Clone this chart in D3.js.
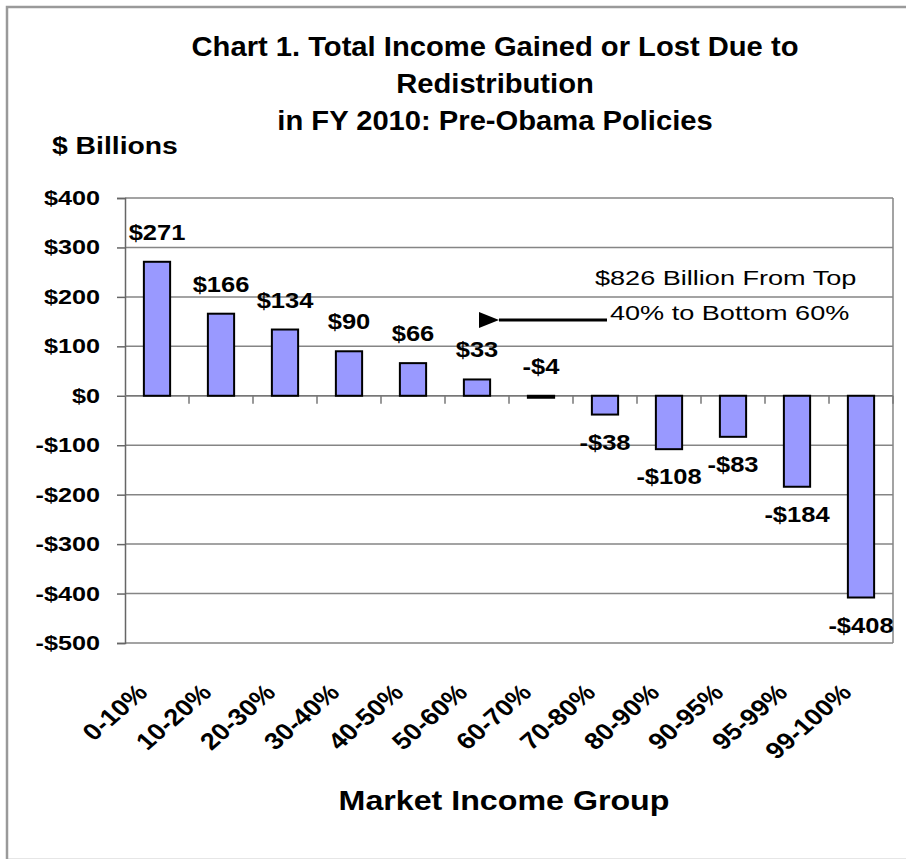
<!DOCTYPE html>
<html>
<head>
<meta charset="utf-8">
<script src="https://cdn.jsdelivr.net/npm/d3@7"></script>
<style>
html,body{margin:0;padding:0;background:#fff;}
svg{display:block;}
text{font-family:"Liberation Sans",Arial,sans-serif;fill:#000;}
</style>
</head>
<body>
<script>
const categories = ["0-10%","10-20%","20-30%","30-40%","40-50%","50-60%","60-70%","70-80%","80-90%","90-95%","95-99%","99-100%"];
const values = [271,166,134,90,66,33,-4,-38,-108,-83,-184,-408];
const yTicks = [400,300,200,100,0,-100,-200,-300,-400,-500];
const titleLines = ["Chart 1. Total Income Gained or Lost Due to","Redistribution","in FY 2010: Pre-Obama Policies"];
const yAxisTitle = "$ Billions";
const xAxisTitle = "Market Income Group";
const noteLines = ["$826 Billion From Top","40% to Bottom 60%"];

(function () {
const W = 906, H = 859;
const svg = d3.select("body").append("svg").attr("width", W).attr("height", H);

// outer frame (right side runs off the picture)
svg.append("rect").attr("x",7).attr("y",7).attr("width",W + 30).attr("height",H - 6)
  .attr("fill","#fff").attr("stroke","#9a9a9a").attr("stroke-width",2.5);

const pL = 125, pR = 893, pT = 198, pB = 643;
const x = d3.scaleBand().domain(categories).range([pL, pR]).padding(0);
const y = d3.scaleLinear().domain([-500, 400]).range([pB, pT]);
const fmt = v => (v < 0 ? "-$" + Math.abs(v) : "$" + v);

function stretchText(g, px, py, str, size, weight, sx, anchor) {
  return g.append("text")
    .attr("transform", `translate(${px},${py}) scale(${sx},1)`)
    .attr("text-anchor", anchor || "middle")
    .attr("font-size", size).attr("font-weight", weight)
    .text(str);
}

// gridlines
svg.append("g").selectAll("line").data(yTicks).join("line")
  .attr("x1", pL).attr("x2", pR)
  .attr("y1", d => y(d)).attr("y2", d => y(d))
  .attr("stroke", "#858585").attr("stroke-width", 1.5);
svg.append("line").attr("x1", pR).attr("x2", pR).attr("y1", pT).attr("y2", pB)
  .attr("stroke", "#858585").attr("stroke-width", 1.5);

// y axis
const yAxis = d3.axisLeft(y).tickValues(yTicks).tickSize(8).tickFormat("");
const yg = svg.append("g").attr("transform", `translate(${pL},0)`).call(yAxis);
yg.select(".domain").attr("stroke", "#666").attr("stroke-width", 1.5);
yg.selectAll(".tick line").attr("stroke", "#666").attr("stroke-width", 1.5);
yTicks.forEach(t => stretchText(svg, 100, y(t) + 7, fmt(t), 21, "bold", 1.2, "end"));

// x axis ticks on zero line
const xg = svg.append("g").attr("transform", `translate(0,${y(0)})`);
xg.append("line").attr("x1", pL).attr("x2", pR).attr("y1", 0).attr("y2", 0)
  .attr("stroke", "#777").attr("stroke-width", 1.5);
const boundaries = categories.map(c => x(c) + x.bandwidth());
xg.selectAll("line.tk").data(boundaries).join("line").attr("class","tk")
  .attr("x1", d => d).attr("x2", d => d).attr("y1", 0).attr("y2", 8)
  .attr("stroke", "#777").attr("stroke-width", 1.5);

// bars
const barW = x.bandwidth() * 0.41;
svg.append("g").selectAll("rect").data(values).join("rect")
  .attr("x", (d, i) => x(categories[i]) + x.bandwidth() / 2 - barW / 2)
  .attr("y", d => Math.min(y(d), y(0)))
  .attr("width", barW)
  .attr("height", d => Math.abs(y(d) - y(0)))
  .attr("fill", "#9999ff").attr("stroke", "#000").attr("stroke-width", 2);

// data labels
values.forEach((v, i) => {
  const cx = x(categories[i]) + x.bandwidth() / 2;
  const ly = v > -10 ? Math.min(y(v), y(0)) - 22 : y(v) + 35;
  stretchText(svg, cx, ly, fmt(v), 22, "bold", 1.16, "middle");
});

// x labels rotated
categories.forEach(c => {
  const ax = x(c) + x.bandwidth() / 2 - 8;
  svg.append("text")
    .attr("transform", `translate(${ax},694) scale(1.15,1) rotate(-45)`)
    .attr("text-anchor", "end").attr("font-size", 23.5).attr("font-weight", "bold")
    .text(c);
});

// titles
titleLines.forEach((t, i) => stretchText(svg, 495, 56 + i * 37, t, 27, "bold", 1.08, "middle"));
stretchText(svg, 52, 154, yAxisTitle, 24, "bold", 1.18, "start");
stretchText(svg, 504, 810, xAxisTitle, 28, "bold", 1.15, "middle");

// annotation
stretchText(svg, 595, 285, noteLines[0], 21, "normal", 1.29, "start");
stretchText(svg, 610, 320, noteLines[1], 21, "normal", 1.29, "start");
svg.append("defs").append("marker").attr("id","ah").attr("viewBox","0 0 20 16")
  .attr("refX",0).attr("refY",8).attr("markerWidth",20).attr("markerHeight",16)
  .attr("orient","auto").attr("markerUnits","userSpaceOnUse")
  .append("path").attr("d","M20,0 L0,8 L20,16 Z").attr("fill","#000");
svg.append("line").attr("x1", 607).attr("x2", 499).attr("y1", 320).attr("y2", 320)
  .attr("stroke", "#000").attr("stroke-width", 3).attr("marker-end", "url(#ah)");
})();
</script>
</body>
</html>
